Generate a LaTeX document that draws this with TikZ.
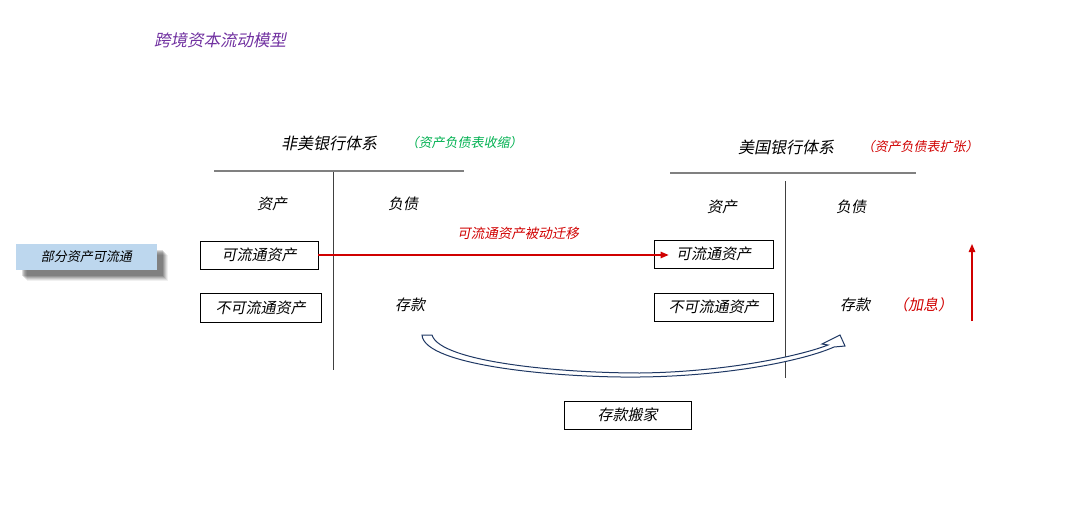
\documentclass[tikz,border=0pt]{standalone}
\usepackage{fontspec}
\newfontfamily\cjk{Noto Sans CJK SC}[FakeSlant=0.2]
\usetikzlibrary{arrows.meta}
\definecolor{ttlpurple}{HTML}{7030A0}
\definecolor{grn}{HTML}{00B050}
\definecolor{rd}{HTML}{D00000}
\definecolor{lblue}{HTML}{BDD7EE}
\definecolor{navy}{HTML}{1F3864}
\definecolor{hline}{HTML}{808080}
\definecolor{vline}{HTML}{404040}
\tikzset{
  txt/.style={inner sep=0pt, font=\cjk\fontsize{15}{15}\selectfont},
  acct/.style={draw=black, line width=0.8pt, inner sep=0pt, font=\cjk\fontsize{15}{15}\selectfont},
  hl/.style={draw=hline, line width=1.6pt},
  vl/.style={draw=vline, line width=1pt},
  redarrow/.style={draw=rd, line width=1.2pt, -{Triangle[length=8pt,width=6.5pt]}},
}
\begin{document}
\begin{tikzpicture}[x=1pt,y=-1pt]
\useasboundingbox (0,0) rectangle (1080,506);
% title
\node[txt, text=ttlpurple, font=\cjk\fontsize{16.5}{16.5}\selectfont] (title) at (220,40) {跨境资本流动模型};
% left bank system
\node[txt, font=\cjk\fontsize{16}{16}\selectfont] (lhead) at (329,143) {非美银行体系};
\node[txt, text=grn, font=\cjk\fontsize{13}{13}\selectfont] (lnote) at (464,143) {（资产负债表收缩）};
\coordinate (lh1) at (214,171);
\coordinate (lh2) at (464,171);
\coordinate (lv1) at (333,172);
\coordinate (lv2) at (333,370);
\draw[hl] (lh1) -- (lh2);
\draw[vl] (lv1) -- (lv2);
\node[txt] (lasset) at (272,204) {资产};
\node[txt] (lliab) at (403,204) {负债};
\node[acct, minimum width=118pt, minimum height=28pt] (la) at (259,255) {可流通资产};
\node[acct, minimum width=121pt, minimum height=29pt] (lb) at (260.5,307.5) {不可流通资产};
\node[txt] (ldep) at (410,305) {存款};
% blue box with shadow
\foreach \o/\op in {11/0.06,10/0.08,9/0.1,8/0.12,7/0.14,6/0.14} {
  \fill[black, opacity=\op] (16+\o,244+\o) rectangle (157+\o,270+\o);
}
\node[fill=lblue, minimum width=141pt, minimum height=26pt, inner sep=0pt, font=\cjk\fontsize{13}{13}\selectfont] (part) at (86.5,257) {部分资产可流通};
% right bank system
\node[txt, font=\cjk\fontsize{16}{16}\selectfont] (rhead) at (786,147) {美国银行体系};
\node[txt, text=rd, font=\cjk\fontsize{13}{13}\selectfont] (rnote) at (920,147) {（资产负债表扩张）};
\coordinate (rh1) at (670,173);
\coordinate (rh2) at (916,173);
\coordinate (rv1) at (785,181);
\coordinate (rv2) at (785,378);
\draw[hl] (rh1) -- (rh2);
\draw[vl] (rv1) -- (rv2);
\node[txt] (rasset) at (722,207) {资产};
\node[txt] (rliab) at (851,207) {负债};
\node[acct, minimum width=119pt, minimum height=28pt] (ra) at (713.5,254) {可流通资产};
\node[acct, minimum width=119pt, minimum height=28pt] (rb) at (713.5,307) {不可流通资产};
\node[txt] (rdep) at (855,305) {存款};
\node[txt, text=rd] (hike) at (923,305) {（加息）};
% migration arrow
\node[txt, text=rd, font=\cjk\fontsize{13.5}{13.5}\selectfont] (mig) at (518,233) {可流通资产被动迁移};
\draw[redarrow] (la.east) -- ([xshift=15pt]la.east -| ra.west);
% up arrow
\coordinate (up1) at (972,321);
\coordinate (up2) at (972,244);
\draw[redarrow] (up1) -- (up2);
% curved hollow arrow
\filldraw[fill=white, draw=navy, line width=1pt, line join=miter]
  (422,335) .. controls (424,366) and (560,378) .. (640,377)
  .. controls (730,376) and (805,360) .. (834,347)
  -- (845,346) -- (840,335) -- (822,344) -- (828,345)
  .. controls (800,356) and (725,372) .. (640,373)
  .. controls (560,373) and (440,362) .. (432,335) -- cycle;
% deposit move box
\node[acct, minimum width=127pt, minimum height=28pt] (move) at (627.5,415) {存款搬家};
\end{tikzpicture}
\end{document}
